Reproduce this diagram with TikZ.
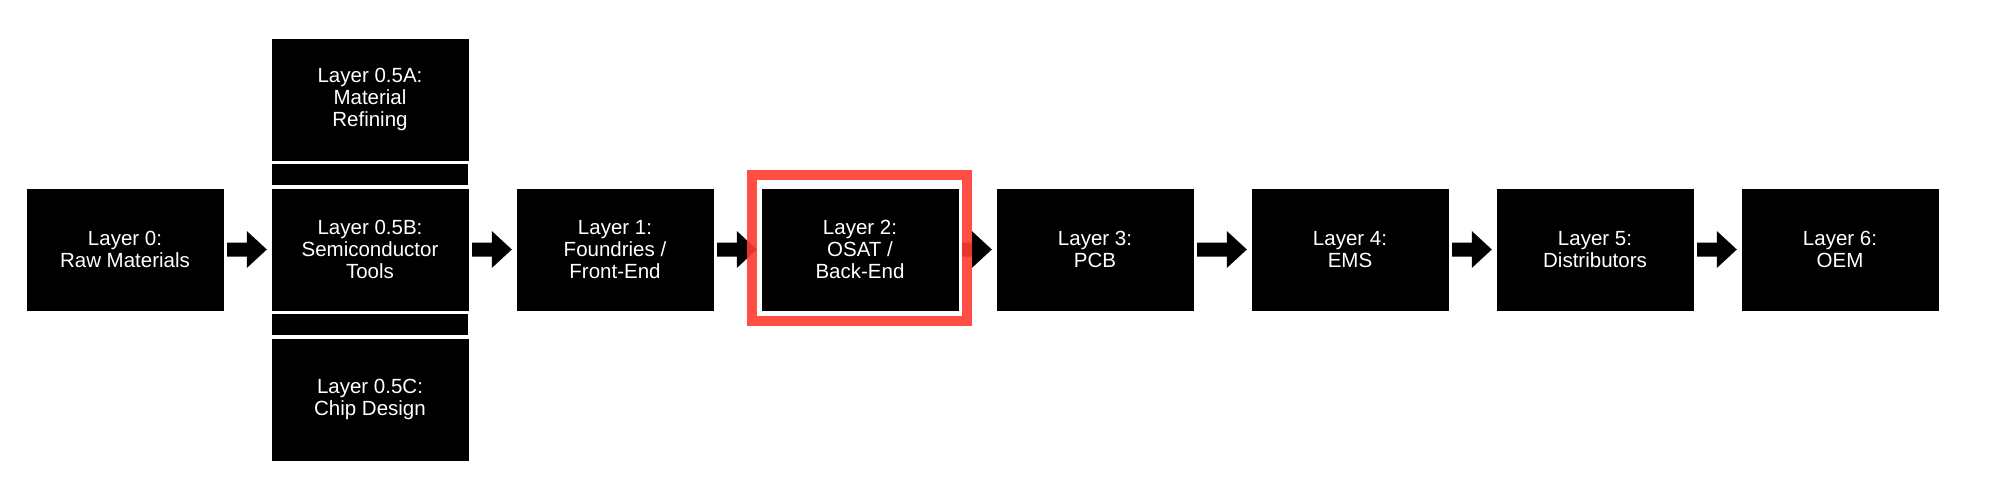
\documentclass[tikz,border=0pt]{standalone}
\usepackage{fontspec}
\setmainfont{Liberation Sans}
\usetikzlibrary{calc}
\definecolor{hlred}{RGB}{255,59,48}
\tikzset{
  layerbox/.style={fill=black, draw=black, line width=0.4pt, text=white, align=center,
    minimum width=196pt, minimum height=121pt, inner sep=0pt,
    font=\fontsize{20.5}{21.7}\selectfont},
}
\newcommand\blockarrow[2]{%
  \fill let \p1=($(#1.east)+(4,0)$), \p2=($(#2.west)+(-5,0)$) in
    (\x1,\y1-7pt) -- (\x2-20pt,\y1-7pt) -- (\x2-20pt,\y1-18.5pt) -- (\x2,\y1)
    -- (\x2-20pt,\y1+18.5pt) -- (\x2-20pt,\y1+7pt) -- (\x1,\y1+7pt) -- cycle;}
\newcommand\linkbar[2]{%
  \fill[black] ($(#1.south west)+(0,4)$) rectangle ($(#2.north east)+(0,-4)$);}
\begin{document}
\begin{tikzpicture}[x=1pt,y=-1pt]
\useasboundingbox (0,0) rectangle (2000,500);
\node[layerbox] (L0) at (125,249.5) {Layer 0:\\Raw Materials};
\node[layerbox] (LA) at (370,99.5) {Layer 0.5A:\\Material\\Refining};
\node[layerbox] (LB) at (370,249.5) {Layer 0.5B:\\Semiconductor\\Tools};
\node[layerbox] (LC) at (370,399.5) {Layer 0.5C:\\Chip Design};
\node[layerbox] (L1) at (615,249.5) {Layer 1:\\Foundries /\\Front-End};
\node[layerbox] (L2) at (860,249.5) {Layer 2:\\OSAT /\\Back-End};
\node[layerbox] (L3) at (1095,249.5) {Layer 3:\\PCB};
\node[layerbox] (L4) at (1350,249.5) {Layer 4:\\EMS};
\node[layerbox] (L5) at (1595,249.5) {Layer 5:\\Distributors};
\node[layerbox] (L6) at (1840,249.5) {Layer 6:\\OEM};
\linkbar{LA}{LB}
\linkbar{LB}{LC}
\blockarrow{L0}{LB}
\blockarrow{LB}{L1}
\blockarrow{L1}{L2}
\blockarrow{L2}{L3}
\blockarrow{L3}{L4}
\blockarrow{L4}{L5}
\blockarrow{L5}{L6}
\draw[hlred, line width=10pt, draw opacity=0.9] ($(L2.north west)+(-10,-14)$) rectangle ($(L2.south east)+(9,11)$);
\end{tikzpicture}
\end{document}
